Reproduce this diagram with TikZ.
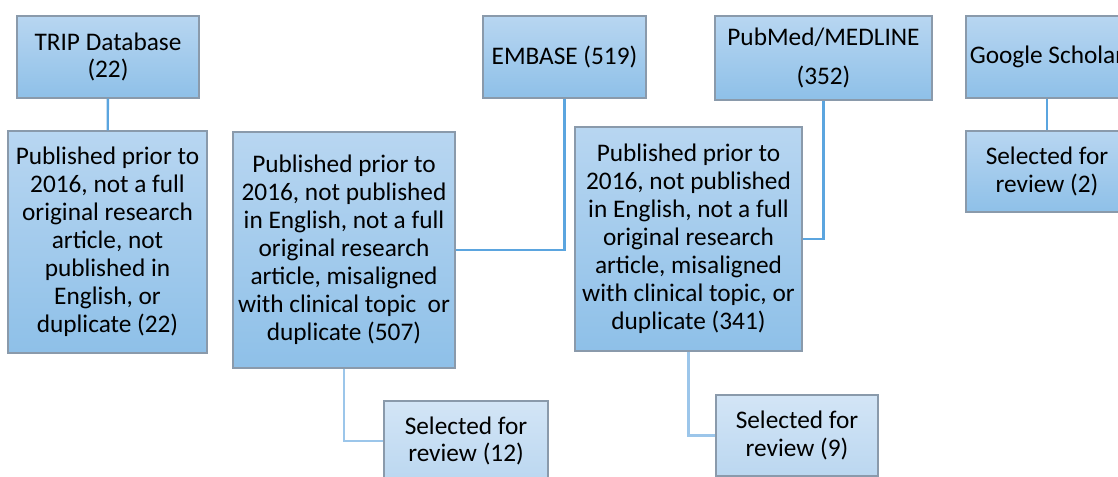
\documentclass[tikz,border=0pt]{standalone}
\usepackage{fontspec}
\setmainfont{Carlito}
\usepackage{tikz}
\definecolor{btop}{HTML}{B8D6F1}
\definecolor{bbot}{HTML}{8EC0E8}
\definecolor{ltop}{HTML}{D3E5F6}
\definecolor{lbot}{HTML}{BBD7F0}
\definecolor{bframe}{HTML}{8A9AAB}
\definecolor{blink}{HTML}{5BA5DF}
\definecolor{llink}{HTML}{9CC6EA}
\usetikzlibrary{calc}

\begin{document}
\begin{tikzpicture}
    \tikzset{box/.style={
      rectangle,
      draw=bframe,
      line width=0.8pt,
      top color=btop,
      bottom color=bbot,
      inner sep=1pt,
      align=center,
      font=\fontsize{14.4}{15.9}\selectfont},
      lbox/.style={box, top color=ltop, bottom color=lbot},
      lnk/.style={draw=blink, line width=1.3pt},
      llnk/.style={draw=llink, line width=1.3pt}}
    \useasboundingbox (0, 0) rectangle (22.36, -9.54);
    \node[box, minimum width=3.64cm, minimum height=1.64cm] at (2.16, -1.14) (trip) {TRIP Database \\ (22)};
    \node[box, minimum width=3.98cm, minimum height=4.44cm] at (2.15, -4.84) (ex1) {Published prior to \\ 2016, not a full \\ original research \\ article, not \\ published in \\ English, or \\ duplicate (22)};
    \node[box, minimum width=3.26cm, minimum height=1.64cm] at (11.29, -1.14) (embase) {EMBASE (519)};
    \node[box, minimum width=4.44cm, minimum height=4.72cm] at (6.88, -5.00) (ex2) {Published prior to \\ 2016, not published \\ in English, not a full \\ original research \\ article, misaligned \\ with clinical topic\ \ or \\ duplicate (507)};
    \node[lbox, minimum width=3.28cm, minimum height=1.6cm] at (9.32, -8.82) (sel12) {Selected for \\ review (12)};
    \node[box, minimum width=4.34cm, minimum height=1.68cm] at (16.47, -1.16) (pubmed) {PubMed/MEDLINE \\[0.22cm] (352)};
    \node[box, minimum width=4.54cm, minimum height=4.48cm] at (13.77, -4.78) (ex3) {Published prior to \\ 2016, not published \\ in English, not a full \\ original research \\ article, misaligned \\ with clinical topic, or \\ duplicate (341)};
    \node[lbox, minimum width=3.24cm, minimum height=1.62cm] at (15.94, -8.71) (sel9) {Selected for \\ review (9)};
    \node[box, minimum width=3.24cm, minimum height=1.64cm] at (20.94, -1.14) (google) {Google Scholar};
    \node[box, minimum width=3.24cm, minimum height=1.62cm] at (20.94, -3.43) (sel2) {Selected for \\ review (2)};
    \draw[lnk] (trip) -- (ex1);
    \draw[lnk] (embase.south) |- (ex2.east);
    \draw[lnk] (pubmed.south) |- (ex3.east);
    \draw[lnk] (google) -- (sel2);
    \draw[llnk] (ex2.south) |- (sel12.west);
    \draw[llnk] (ex3.south) |- (sel9.west);
  \end{tikzpicture}
\end{document}
